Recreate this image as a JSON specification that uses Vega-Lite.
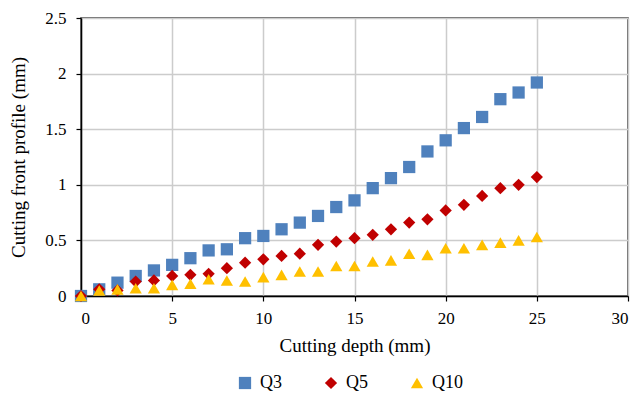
{
  "$schema": "https://vega.github.io/schema/vega-lite/v6.json",
  "width": 547,
  "height": 278,
  "autosize": "none",
  "padding": {"left": 81, "top": 18, "right": 10, "bottom": 104},
  "background": "white",
  "config": {
    "font": "Liberation Serif",
    "style": {
      "guide-label": {"font": "Liberation Serif", "fontSize": 17, "fill": "#000"},
      "guide-title": {"font": "Liberation Serif", "fontSize": 19, "fill": "#000"}
    },
    "view": {"stroke": "#333333", "strokeWidth": 1.5},
    "axis": {
      "labelFont": "Liberation Serif",
      "titleFont": "Liberation Serif",
      "labelFontSize": 17,
      "titleFontSize": 19,
      "titleFontWeight": "normal",
      "labelColor": "#000",
      "titleColor": "#000",
      "domainColor": "#000",
      "domainWidth": 1.5,
      "tickColor": "#000",
      "tickWidth": 1.2,
      "tickSize": 5,
      "gridColor": "#cccccc",
      "gridWidth": 1.5
    },
    "legend": {
      "labelFont": "Liberation Serif",
      "labelFontSize": 18,
      "labelColor": "#000"
    }
  },
  "data": {
    "values": [
      {"depth": 0, "series": "Q3", "profile": 0.0},
      {"depth": 1, "series": "Q3", "profile": 0.06},
      {"depth": 2, "series": "Q3", "profile": 0.12},
      {"depth": 3, "series": "Q3", "profile": 0.18},
      {"depth": 4, "series": "Q3", "profile": 0.23},
      {"depth": 5, "series": "Q3", "profile": 0.28},
      {"depth": 6, "series": "Q3", "profile": 0.34},
      {"depth": 7, "series": "Q3", "profile": 0.41},
      {"depth": 8, "series": "Q3", "profile": 0.42},
      {"depth": 9, "series": "Q3", "profile": 0.52},
      {"depth": 10, "series": "Q3", "profile": 0.54},
      {"depth": 11, "series": "Q3", "profile": 0.60},
      {"depth": 12, "series": "Q3", "profile": 0.66},
      {"depth": 13, "series": "Q3", "profile": 0.72},
      {"depth": 14, "series": "Q3", "profile": 0.80},
      {"depth": 15, "series": "Q3", "profile": 0.86},
      {"depth": 16, "series": "Q3", "profile": 0.97},
      {"depth": 17, "series": "Q3", "profile": 1.06},
      {"depth": 18, "series": "Q3", "profile": 1.16},
      {"depth": 19, "series": "Q3", "profile": 1.30},
      {"depth": 20, "series": "Q3", "profile": 1.40},
      {"depth": 21, "series": "Q3", "profile": 1.51},
      {"depth": 22, "series": "Q3", "profile": 1.61},
      {"depth": 23, "series": "Q3", "profile": 1.77},
      {"depth": 24, "series": "Q3", "profile": 1.83},
      {"depth": 25, "series": "Q3", "profile": 1.92},
      {"depth": 0, "series": "Q5", "profile": 0.0},
      {"depth": 1, "series": "Q5", "profile": 0.06},
      {"depth": 2, "series": "Q5", "profile": 0.05},
      {"depth": 3, "series": "Q5", "profile": 0.13},
      {"depth": 4, "series": "Q5", "profile": 0.14},
      {"depth": 5, "series": "Q5", "profile": 0.18},
      {"depth": 6, "series": "Q5", "profile": 0.19},
      {"depth": 7, "series": "Q5", "profile": 0.20},
      {"depth": 8, "series": "Q5", "profile": 0.25},
      {"depth": 9, "series": "Q5", "profile": 0.30},
      {"depth": 10, "series": "Q5", "profile": 0.33},
      {"depth": 11, "series": "Q5", "profile": 0.36},
      {"depth": 12, "series": "Q5", "profile": 0.38},
      {"depth": 13, "series": "Q5", "profile": 0.46},
      {"depth": 14, "series": "Q5", "profile": 0.49},
      {"depth": 15, "series": "Q5", "profile": 0.52},
      {"depth": 16, "series": "Q5", "profile": 0.55},
      {"depth": 17, "series": "Q5", "profile": 0.60},
      {"depth": 18, "series": "Q5", "profile": 0.66},
      {"depth": 19, "series": "Q5", "profile": 0.69},
      {"depth": 20, "series": "Q5", "profile": 0.77},
      {"depth": 21, "series": "Q5", "profile": 0.82},
      {"depth": 22, "series": "Q5", "profile": 0.90},
      {"depth": 23, "series": "Q5", "profile": 0.97},
      {"depth": 24, "series": "Q5", "profile": 1.00},
      {"depth": 25, "series": "Q5", "profile": 1.07},
      {"depth": 0, "series": "Q10", "profile": 0.0},
      {"depth": 1, "series": "Q10", "profile": 0.05},
      {"depth": 2, "series": "Q10", "profile": 0.06},
      {"depth": 3, "series": "Q10", "profile": 0.07},
      {"depth": 4, "series": "Q10", "profile": 0.07},
      {"depth": 5, "series": "Q10", "profile": 0.10},
      {"depth": 6, "series": "Q10", "profile": 0.11},
      {"depth": 7, "series": "Q10", "profile": 0.15},
      {"depth": 8, "series": "Q10", "profile": 0.14},
      {"depth": 9, "series": "Q10", "profile": 0.13},
      {"depth": 10, "series": "Q10", "profile": 0.17},
      {"depth": 11, "series": "Q10", "profile": 0.19},
      {"depth": 12, "series": "Q10", "profile": 0.22},
      {"depth": 13, "series": "Q10", "profile": 0.22},
      {"depth": 14, "series": "Q10", "profile": 0.27},
      {"depth": 15, "series": "Q10", "profile": 0.27},
      {"depth": 16, "series": "Q10", "profile": 0.31},
      {"depth": 17, "series": "Q10", "profile": 0.32},
      {"depth": 18, "series": "Q10", "profile": 0.38},
      {"depth": 19, "series": "Q10", "profile": 0.37},
      {"depth": 20, "series": "Q10", "profile": 0.43},
      {"depth": 21, "series": "Q10", "profile": 0.43},
      {"depth": 22, "series": "Q10", "profile": 0.46},
      {"depth": 23, "series": "Q10", "profile": 0.48},
      {"depth": 24, "series": "Q10", "profile": 0.50},
      {"depth": 25, "series": "Q10", "profile": 0.53}
    ]
  },
  "mark": {"type": "point", "filled": true, "opacity": 1, "size": 150},
  "encoding": {
    "x": {
      "field": "depth",
      "type": "quantitative",
      "scale": {"domain": [0, 30], "nice": false},
      "axis": {"values": [0, 5, 10, 15, 20, 25, 30], "format": "~g", "title": "Cutting depth (mm)", "titlePadding": 10, "labelPadding": 9, "labelFont": "Liberation Serif", "titleFont": "Liberation Serif"}
    },
    "y": {
      "field": "profile",
      "type": "quantitative",
      "scale": {"domain": [0, 2.5], "nice": false},
      "axis": {"values": [0, 0.5, 1, 1.5, 2, 2.5], "format": "~g", "title": "Cutting front profile (mm)", "titlePadding": 16, "labelPadding": 10, "labelFont": "Liberation Serif", "titleFont": "Liberation Serif"}
    },
    "color": {
      "field": "series",
      "type": "nominal",
      "scale": {"domain": ["Q3", "Q5", "Q10"], "range": ["#4F81BD", "#C00000", "#FFC000"]},
      "legend": {
        "title": null,
        "orient": "none",
        "direction": "horizontal",
        "legendX": 155,
        "legendY": 356,
        "symbolSize": 150,
        "columnPadding": 40,
        "labelOffset": 6,
        "labelFont": "Liberation Serif"
      }
    },
    "shape": {
      "field": "series",
      "type": "nominal",
      "scale": {"domain": ["Q3", "Q5", "Q10"], "range": ["square", "diamond", "triangle-up"]},
      "legend": null
    }
  }
}
